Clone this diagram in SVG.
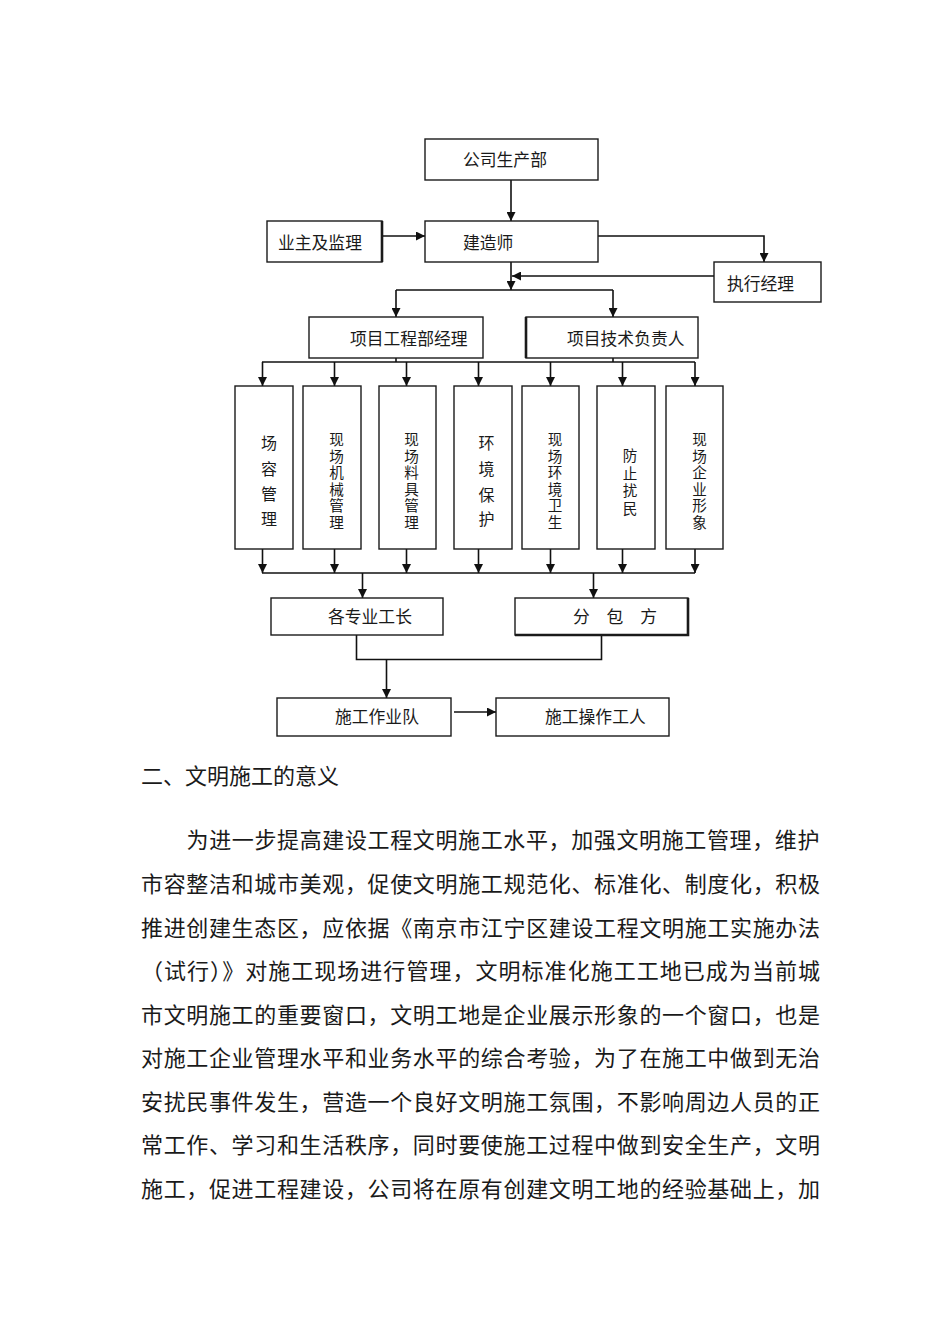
<svg xmlns="http://www.w3.org/2000/svg" width="950" height="1344" viewBox="0 0 950 1344">
<defs>
<marker id="ah" viewBox="0 0 10 10" refX="10" refY="5" markerWidth="9" markerHeight="9" markerUnits="userSpaceOnUse" orient="auto"><path d="M0,0 L10,5 L0,10 z" fill="#111"/></marker>
<style>
.box{fill:#fff;stroke:#1a1a1a;stroke-width:1.4}
.thick{stroke:#1a1a1a;stroke-width:2.6}
.lbl{font-family:"Liberation Serif","Noto Sans CJK SC",serif;font-size:16.8px;fill:#1a1a1a;dominant-baseline:central}
.vl{font-family:"Liberation Serif","Noto Sans CJK SC",serif;font-size:16px;fill:#1a1a1a;dominant-baseline:central;text-anchor:middle}
.vs{font-family:"Liberation Serif","Noto Sans CJK SC",serif;font-size:14.6px;fill:#1a1a1a;dominant-baseline:central;text-anchor:middle}
.c{fill:none;stroke:#111;stroke-width:1.6}
.ca{fill:none;stroke:#111;stroke-width:1.6;marker-end:url(#ah)}
.p{font-family:"Liberation Serif","Noto Sans CJK SC",serif;font-size:22px;fill:#1a1a1a;dominant-baseline:central}
</style>
</defs>
<rect width="950" height="1344" fill="#fff"/>

<g id="connectors">
<line class="ca" x1="511" y1="180" x2="511" y2="221"/>
<line class="ca" x1="382" y1="236" x2="425" y2="236"/>
<polyline class="ca" points="598,236 764,236 764,262"/>
<line class="ca" x1="714" y1="276" x2="512" y2="276"/>
<line class="ca" x1="511" y1="262" x2="511" y2="290"/>
<line class="c" x1="396" y1="290" x2="613" y2="290"/>
<line class="ca" x1="396" y1="290" x2="396" y2="317"/>
<line class="ca" x1="613" y1="290" x2="613" y2="317"/>
<line class="c" x1="396" y1="358" x2="396" y2="362"/>
<line class="c" x1="613" y1="358" x2="613" y2="362"/>
<line class="c" x1="262" y1="362" x2="695" y2="362"/>
<line class="ca" x1="262.5" y1="362" x2="262.5" y2="386"/>
<line class="ca" x1="334.5" y1="362" x2="334.5" y2="386"/>
<line class="ca" x1="406.5" y1="362" x2="406.5" y2="386"/>
<line class="ca" x1="478.5" y1="362" x2="478.5" y2="386"/>
<line class="ca" x1="550.5" y1="362" x2="550.5" y2="386"/>
<line class="ca" x1="622.5" y1="362" x2="622.5" y2="386"/>
<line class="ca" x1="695" y1="362" x2="695" y2="386"/>
<line class="ca" x1="262.5" y1="549" x2="262.5" y2="573"/>
<line class="ca" x1="334.5" y1="549" x2="334.5" y2="573"/>
<line class="ca" x1="406.5" y1="549" x2="406.5" y2="573"/>
<line class="ca" x1="478.5" y1="549" x2="478.5" y2="573"/>
<line class="ca" x1="550.5" y1="549" x2="550.5" y2="573"/>
<line class="ca" x1="622.5" y1="549" x2="622.5" y2="573"/>
<line class="ca" x1="695" y1="549" x2="695" y2="573"/>
<line class="c" x1="262" y1="573" x2="695" y2="573"/>
<line class="ca" x1="362.5" y1="573" x2="362.5" y2="598"/>
<line class="ca" x1="593.5" y1="573" x2="593.5" y2="598"/>
<polyline class="c" points="356.5,635 356.5,659.5 601.5,659.5 601.5,635"/>
<line class="ca" x1="386.5" y1="659.5" x2="386.5" y2="698"/>
<line class="ca" x1="454" y1="712" x2="496" y2="712"/>
</g>

<g id="n-gongsi"><rect class="box" x="425" y="139" width="173" height="41"/><text class="lbl" x="463" y="160">公司生产部</text></g>
<g id="n-jianzaoshi"><rect class="box" x="425" y="221" width="173" height="41"/><text class="lbl" x="463" y="243">建造师</text></g>
<g id="n-yezhu"><rect class="box" x="267" y="221" width="115" height="41"/><line class="thick" x1="382" y1="221" x2="382" y2="262"/><text class="lbl" x="278" y="243">业主及监理</text></g>
<g id="n-zhixing"><rect class="box" x="714" y="262" width="107" height="40"/><text class="lbl" x="727" y="284">执行经理</text></g>
<g id="n-xmjl"><rect class="box" x="309" y="317" width="174" height="41"/><text class="lbl" x="350" y="339">项目工程部经理</text></g>
<g id="n-jsfz"><rect class="box" x="526" y="317" width="172" height="41"/><line class="thick" x1="526" y1="317" x2="526" y2="358"/><text class="lbl" x="567" y="339">项目技术负责人</text></g>

<g id="n-v1"><rect class="box" x="235" y="386" width="58" height="163"/><text class="vl"><tspan x="269" y="443">场</tspan><tspan x="269" y="468.5">容</tspan><tspan x="269" y="493.5">管</tspan><tspan x="269" y="518.5">理</tspan></text></g>
<g id="n-v2"><rect class="box" x="303" y="386" width="58" height="163"/><text class="vs"><tspan x="336.5" y="440">现</tspan><tspan x="336.5" y="456.5">场</tspan><tspan x="336.5" y="473">机</tspan><tspan x="336.5" y="489.5">械</tspan><tspan x="336.5" y="506">管</tspan><tspan x="336.5" y="522.5">理</tspan></text></g>
<g id="n-v3"><rect class="box" x="379" y="386" width="57" height="163"/><text class="vs"><tspan x="411.5" y="440">现</tspan><tspan x="411.5" y="456.5">场</tspan><tspan x="411.5" y="473">料</tspan><tspan x="411.5" y="489.5">具</tspan><tspan x="411.5" y="506">管</tspan><tspan x="411.5" y="522.5">理</tspan></text></g>
<g id="n-v4"><rect class="box" x="454" y="386" width="58" height="163"/><text class="vl"><tspan x="486.5" y="443">环</tspan><tspan x="486.5" y="469">境</tspan><tspan x="486.5" y="494.5">保</tspan><tspan x="486.5" y="519">护</tspan></text></g>
<g id="n-v5"><rect class="box" x="522" y="386" width="57" height="163"/><text class="vs"><tspan x="555" y="440">现</tspan><tspan x="555" y="456.5">场</tspan><tspan x="555" y="473">环</tspan><tspan x="555" y="489.5">境</tspan><tspan x="555" y="506">卫</tspan><tspan x="555" y="522.5">生</tspan></text></g>
<g id="n-v6"><rect class="box" x="597" y="386" width="58" height="163"/><text class="vs"><tspan x="630" y="456">防</tspan><tspan x="630" y="473.5">止</tspan><tspan x="630" y="491">扰</tspan><tspan x="630" y="508.5">民</tspan></text></g>
<g id="n-v7"><rect class="box" x="666" y="386" width="57" height="163"/><text class="vs"><tspan x="699.5" y="440">现</tspan><tspan x="699.5" y="456.5">场</tspan><tspan x="699.5" y="473">企</tspan><tspan x="699.5" y="489.5">业</tspan><tspan x="699.5" y="506">形</tspan><tspan x="699.5" y="522.5">象</tspan></text></g>

<g id="n-gezhuanye"><rect class="box" x="271" y="598" width="172" height="37"/><text class="lbl" x="328" y="617">各专业工长</text></g>
<g id="n-fenbao"><rect class="box" x="515" y="598" width="173" height="37"/><polyline fill="none" class="thick" points="688,598 688,635 515,635"/><text class="lbl" x="573" y="617">分　包　方</text></g>
<g id="n-zuoyedui"><rect class="box" x="277" y="698" width="174" height="38"/><text class="lbl" x="335" y="717">施工作业队</text></g>
<g id="n-gongren"><rect class="box" x="496" y="698" width="173" height="38"/><text class="lbl" x="545" y="717">施工操作工人</text></g>

<g id="body-text">
<text class="p" x="141" y="776">二、文明施工的意义</text>
<text class="p" x="186.5" y="840" textLength="633" lengthAdjust="spacing">为进一步提高建设工程文明施工水平，加强文明施工管理，维护</text>
<text class="p" x="141" y="884.5" textLength="679" lengthAdjust="spacing">市容整洁和城市美观，促使文明施工规范化、标准化、制度化，积极</text>
<text class="p" x="141" y="928" textLength="679" lengthAdjust="spacing">推进创建生态区，应依据《南京市江宁区建设工程文明施工实施办法</text>
<text class="p" x="141" y="971.5" textLength="679" lengthAdjust="spacing">（试行）》对施工现场进行管理，文明标准化施工工地已成为当前城</text>
<text class="p" x="141" y="1015" textLength="679" lengthAdjust="spacing">市文明施工的重要窗口，文明工地是企业展示形象的一个窗口，也是</text>
<text class="p" x="141" y="1058.5" textLength="679" lengthAdjust="spacing">对施工企业管理水平和业务水平的综合考验，为了在施工中做到无治</text>
<text class="p" x="141" y="1102" textLength="679" lengthAdjust="spacing">安扰民事件发生，营造一个良好文明施工氛围，不影响周边人员的正</text>
<text class="p" x="141" y="1145.5" textLength="679" lengthAdjust="spacing">常工作、学习和生活秩序，同时要使施工过程中做到安全生产，文明</text>
<text class="p" x="141" y="1189" textLength="679" lengthAdjust="spacing">施工，促进工程建设，公司将在原有创建文明工地的经验基础上，加</text>
</g>
</svg>
